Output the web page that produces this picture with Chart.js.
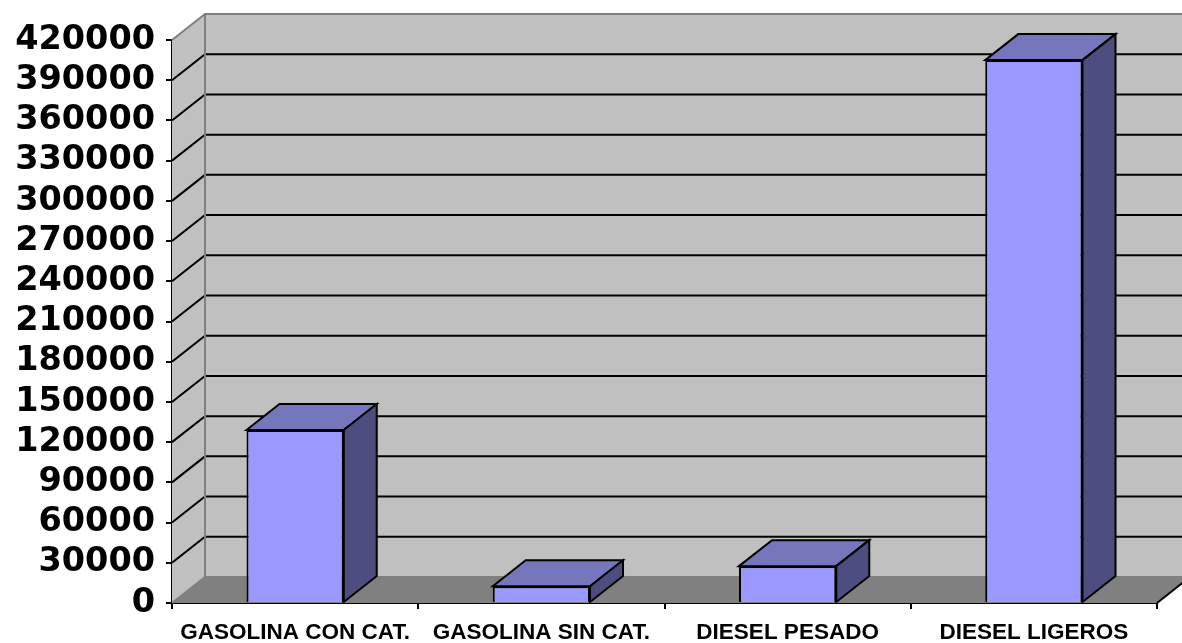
<!DOCTYPE html>
<html><head><meta charset="utf-8">
<script src="https://cdn.jsdelivr.net/npm/chart.js@4"></script>
<style>html,body{margin:0;padding:0;background:#fff;}canvas{display:block;}</style>
</head><body>
<canvas id="c" width="1182" height="643"></canvas>
<script>
const categories = ['GASOLINA CON CAT.', 'GASOLINA SIN CAT.', 'DIESEL PESADO', 'DIESEL LIGEROS'];
const values = [129000, 12500, 27500, 405000];
const yMin = 0;
const yMax = 420000;
const yStep = 30000;

const DX = 33, DY = -26;

const plugin3d = {
  id: 'fake3d',
  beforeDatasetsDraw(chart) {
    const { ctx, chartArea: a, scales: { y } } = chart;
    ctx.save();
    ctx.fillStyle = '#c0c0c0';
    ctx.fillRect(a.left + DX, a.top + DY, a.right - a.left + 40, a.bottom - a.top);
    ctx.beginPath();
    ctx.moveTo(a.left, a.top); ctx.lineTo(a.left + DX, a.top + DY);
    ctx.lineTo(a.left + DX, a.bottom + DY); ctx.lineTo(a.left, a.bottom);
    ctx.closePath(); ctx.fill();
    ctx.fillStyle = '#808080';
    ctx.beginPath();
    ctx.moveTo(a.left, a.bottom); ctx.lineTo(a.right, a.bottom);
    ctx.lineTo(a.right + DX, a.bottom + DY); ctx.lineTo(a.left + DX, a.bottom + DY);
    ctx.closePath(); ctx.fill();
    ctx.strokeStyle = '#000'; ctx.lineWidth = 2;
    y.ticks.forEach(t => {
      if (t.value <= yMin || t.value >= yMax) return;
      const py = y.getPixelForValue(t.value);
      ctx.beginPath();
      ctx.moveTo(a.left, py); ctx.lineTo(a.left + DX, py + DY); ctx.lineTo(a.right + DX + 40, py + DY);
      ctx.stroke();
    });
    ctx.strokeStyle = '#808080';
    ctx.beginPath();
    ctx.moveTo(a.left, a.top); ctx.lineTo(a.left + DX, a.top + DY); ctx.lineTo(a.right + DX + 40, a.top + DY);
    ctx.stroke();
    ctx.beginPath();
    ctx.moveTo(a.left + DX, a.top + DY); ctx.lineTo(a.left + DX, a.bottom + DY); ctx.lineTo(a.right + DX + 40, a.bottom + DY);
    ctx.stroke();
    ctx.beginPath();
    ctx.moveTo(a.left, a.bottom); ctx.lineTo(a.left + DX, a.bottom + DY);
    ctx.stroke();
    ctx.strokeStyle = '#000';
    ctx.beginPath();
    ctx.moveTo(a.right, a.bottom); ctx.lineTo(a.right + DX, a.bottom + DY);
    ctx.stroke();
    ctx.restore();
  },
  afterDatasetsDraw(chart) {
    const { ctx } = chart;
    const meta = chart.getDatasetMeta(0);
    ctx.save();
    ctx.lineWidth = 2; ctx.strokeStyle = '#000'; ctx.lineJoin = 'miter';
    meta.data.forEach(bar => {
      const { x, y, base, width } = bar.getProps(['x', 'y', 'base', 'width'], true);
      const l = x - width / 2, r = x + width / 2;
      ctx.fillStyle = '#7676bd';
      ctx.beginPath();
      ctx.moveTo(l, y); ctx.lineTo(l + DX, y + DY); ctx.lineTo(r + DX, y + DY); ctx.lineTo(r, y);
      ctx.closePath(); ctx.fill(); ctx.stroke();
      ctx.fillStyle = '#4d4d80';
      ctx.beginPath();
      ctx.moveTo(r, y); ctx.lineTo(r + DX, y + DY); ctx.lineTo(r + DX, base + DY); ctx.lineTo(r, base);
      ctx.closePath(); ctx.fill(); ctx.stroke();
    });
    ctx.restore();
  }
};

new Chart(document.getElementById('c'), {
  type: 'bar',
  data: {
    labels: categories,
    datasets: [{
      data: values,
      backgroundColor: '#9999ff',
      borderColor: '#000',
      borderWidth: 2,
      categoryPercentage: 1,
      barPercentage: 0.395
    }]
  },
  options: {
    responsive: false,
    animation: false,
    layout: { padding: { top: 40, right: 25, left: 0, bottom: 0 } },
    plugins: { legend: { display: false }, tooltip: { enabled: false } },
    scales: {
      x: {
        ticks: { font: { family: 'Liberation Sans', weight: 'bold', size: 22.5 }, color: '#000', padding: 10, maxRotation: 0, autoSkip: false },
        grid: { drawOnChartArea: false, offset: true, tickLength: 6, color: '#000', lineWidth: 2 },
        border: { display: true, color: '#000', width: 2 },
        afterFit(s) { s.height = 40; }
      },
      y: {
        min: yMin, max: yMax,
        ticks: { stepSize: yStep, autoSkip: false, font: { family: 'DejaVu Sans', weight: 'bold', size: 33.5, lineHeight: 1 }, color: '#000', padding: 11, callback: v => String(v) },
        grid: { drawOnChartArea: false, tickLength: 6, color: '#000', lineWidth: 2 },
        border: { display: true, color: '#000', width: 2 },
        afterFit(s) { s.width = 172; }
      }
    }
  },
  plugins: [plugin3d]
});
</script>
</body></html>
